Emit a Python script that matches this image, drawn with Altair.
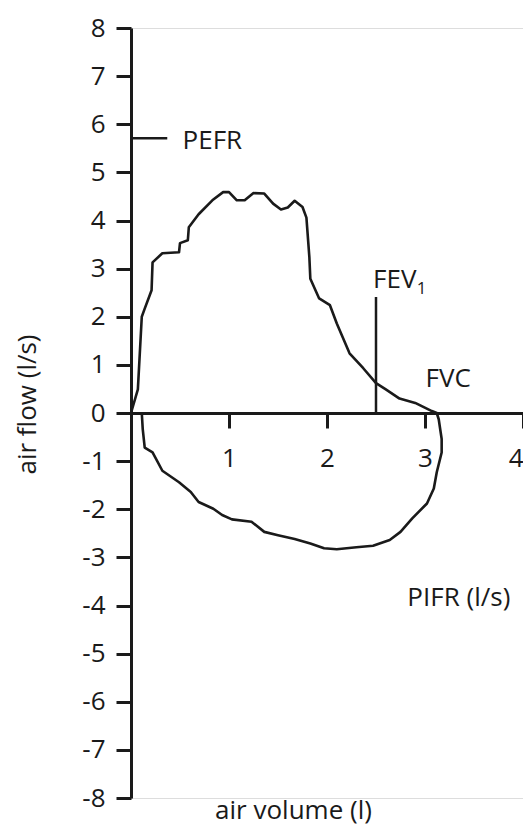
import altair as alt
import pandas as pd

# Expiratory limb (volume l, flow l/s)
exp_vol = [0, 0.07, 0.11, 0.14, 0.21, 0.22, 0.32, 0.49, 0.50, 0.58, 0.59, 0.69, 0.83, 0.94, 1.00,
           1.08, 1.16, 1.25, 1.36, 1.45, 1.53, 1.60, 1.67, 1.75, 1.79, 1.82, 1.83, 1.92, 2.03, 2.10,
           2.23, 2.37, 2.50, 2.60, 2.74, 2.90, 3.07, 3.12]
exp_flow = [0, 0.49, 2.0, 2.17, 2.55, 3.13, 3.32, 3.34, 3.53, 3.59, 3.86, 4.13, 4.42, 4.59, 4.59,
            4.42, 4.42, 4.57, 4.56, 4.35, 4.23, 4.27, 4.41, 4.28, 4.06, 3.24, 2.79, 2.38, 2.24, 1.86,
            1.24, 0.93, 0.62, 0.49, 0.30, 0.21, 0.04, 0]
# Inspiratory limb
insp_vol = [3.14, 3.17, 3.17, 3.12, 3.09, 3.02, 2.87, 2.75, 2.64, 2.47, 2.30, 2.10, 1.97, 1.83, 1.67,
            1.50, 1.36, 1.23, 1.03, 0.93, 0.84, 0.69, 0.61, 0.49, 0.32, 0.22, 0.14, 0.12, 0.11]
insp_flow = [-0.13, -0.54, -0.82, -1.23, -1.57, -1.88, -2.19, -2.47, -2.64, -2.76, -2.79, -2.83, -2.81,
             -2.71, -2.62, -2.54, -2.47, -2.26, -2.21, -2.12, -1.99, -1.85, -1.64, -1.44, -1.20, -0.82,
             -0.72, -0.34, 0]

y_ticks = list(range(-8, 9))
x_ticks = [1, 2, 3, 4]

# Annotation markers
pefr_value = 5.71
pefr_len = 0.37
fev1_volume = 2.5
fev1_top = 2.41

labels_text = ["PEFR", "FEV", "FVC", "PIFR (l/s)"]
labels_x = [0.526, 2.47, 3.005, 2.82]
labels_y = [5.49, 2.60, 0.55, -4.0]

FONT = "Open Sans"
FS = 26
INK = "#1a1a1a"

vol = exp_vol + insp_vol
flow = exp_flow + insp_flow
curve = pd.DataFrame({"vol": vol, "flow": flow, "i": list(range(len(vol)))})

xs = alt.Scale(domain=[0, 4], nice=False, zero=False)
ys = alt.Scale(domain=[-8, 8], nice=False, zero=False)

line = alt.Chart(curve).mark_line(color=INK, strokeWidth=2.6, strokeJoin="round").encode(
    x=alt.X("vol:Q", scale=xs, axis=alt.Axis(
        values=x_ticks, orient="bottom", offset=-385, tickSize=15, tickWidth=3,
        domainWidth=3, domainColor=INK, tickColor=INK, labelColor=INK,
        labelFontSize=FS, labelFont=FONT, labelPadding=17, labelBaseline="top",
        labelExpr="'' + datum.value", labelFlush=True,
        grid=False, title="air volume (l)", titleFont=FONT, titleFontSize=FS,
        titleFontWeight="normal", titleColor=INK, titleX=162, titleY=405,
        titleBaseline="alphabetic", titleAlign="center")),
    y=alt.Y("flow:Q", scale=ys, axis=alt.Axis(
        values=y_ticks, tickSize=15, tickWidth=3, domainWidth=3, domainColor=INK,
        tickColor=INK, labelColor=INK, labelFontSize=FS, labelFont=FONT, labelPadding=11,
        labelExpr="'' + datum.value",
        grid=False, title="air flow (l/s)", titleFont=FONT, titleFontSize=FS,
        titleFontWeight="normal", titleColor=INK, titleX=-104, titleY=376,
        titleAngle=-90, titleBaseline="middle", titleAlign="center")),
    order="i:Q",
)

pefr_df = pd.DataFrame({"x": [0], "x2": [pefr_len], "y": [pefr_value]})
pefr_rule = alt.Chart(pefr_df).mark_rule(color=INK, strokeWidth=2.5).encode(
    x=alt.X("x:Q", scale=xs), x2="x2:Q", y=alt.Y("y:Q", scale=ys))

fev_df = pd.DataFrame({"x": [fev1_volume], "y": [0], "y2": [fev1_top]})
fev_rule = alt.Chart(fev_df).mark_rule(color=INK, strokeWidth=2.5).encode(
    x=alt.X("x:Q", scale=xs), y=alt.Y("y:Q", scale=ys), y2="y2:Q")

lab_df = pd.DataFrame({"t": labels_text, "x": labels_x, "y": labels_y})
labels = alt.Chart(lab_df).mark_text(
    align="left", baseline="alphabetic", font=FONT, fontSize=FS, color=INK).encode(
    x=alt.X("x:Q", scale=xs), y=alt.Y("y:Q", scale=ys), text="t:N")

sub_df = pd.DataFrame({"t": ["1"], "x": [2.915], "y": [2.48]})
sub = alt.Chart(sub_df).mark_text(
    align="left", baseline="alphabetic", font=FONT, fontSize=17, color=INK).encode(
    x=alt.X("x:Q", scale=xs), y=alt.Y("y:Q", scale=ys), text="t:N")

chart = alt.layer(line, pefr_rule, fev_rule, labels, sub).properties(
    width=392, height=770,
    autosize=alt.AutoSizeParams(type="none"),
    padding={"left": 123, "top": 20, "right": 0, "bottom": 29},
).configure_view(stroke=None).configure(background="white")

chart.save("out.html", embed_options={"renderer": "svg", "actions": False})
